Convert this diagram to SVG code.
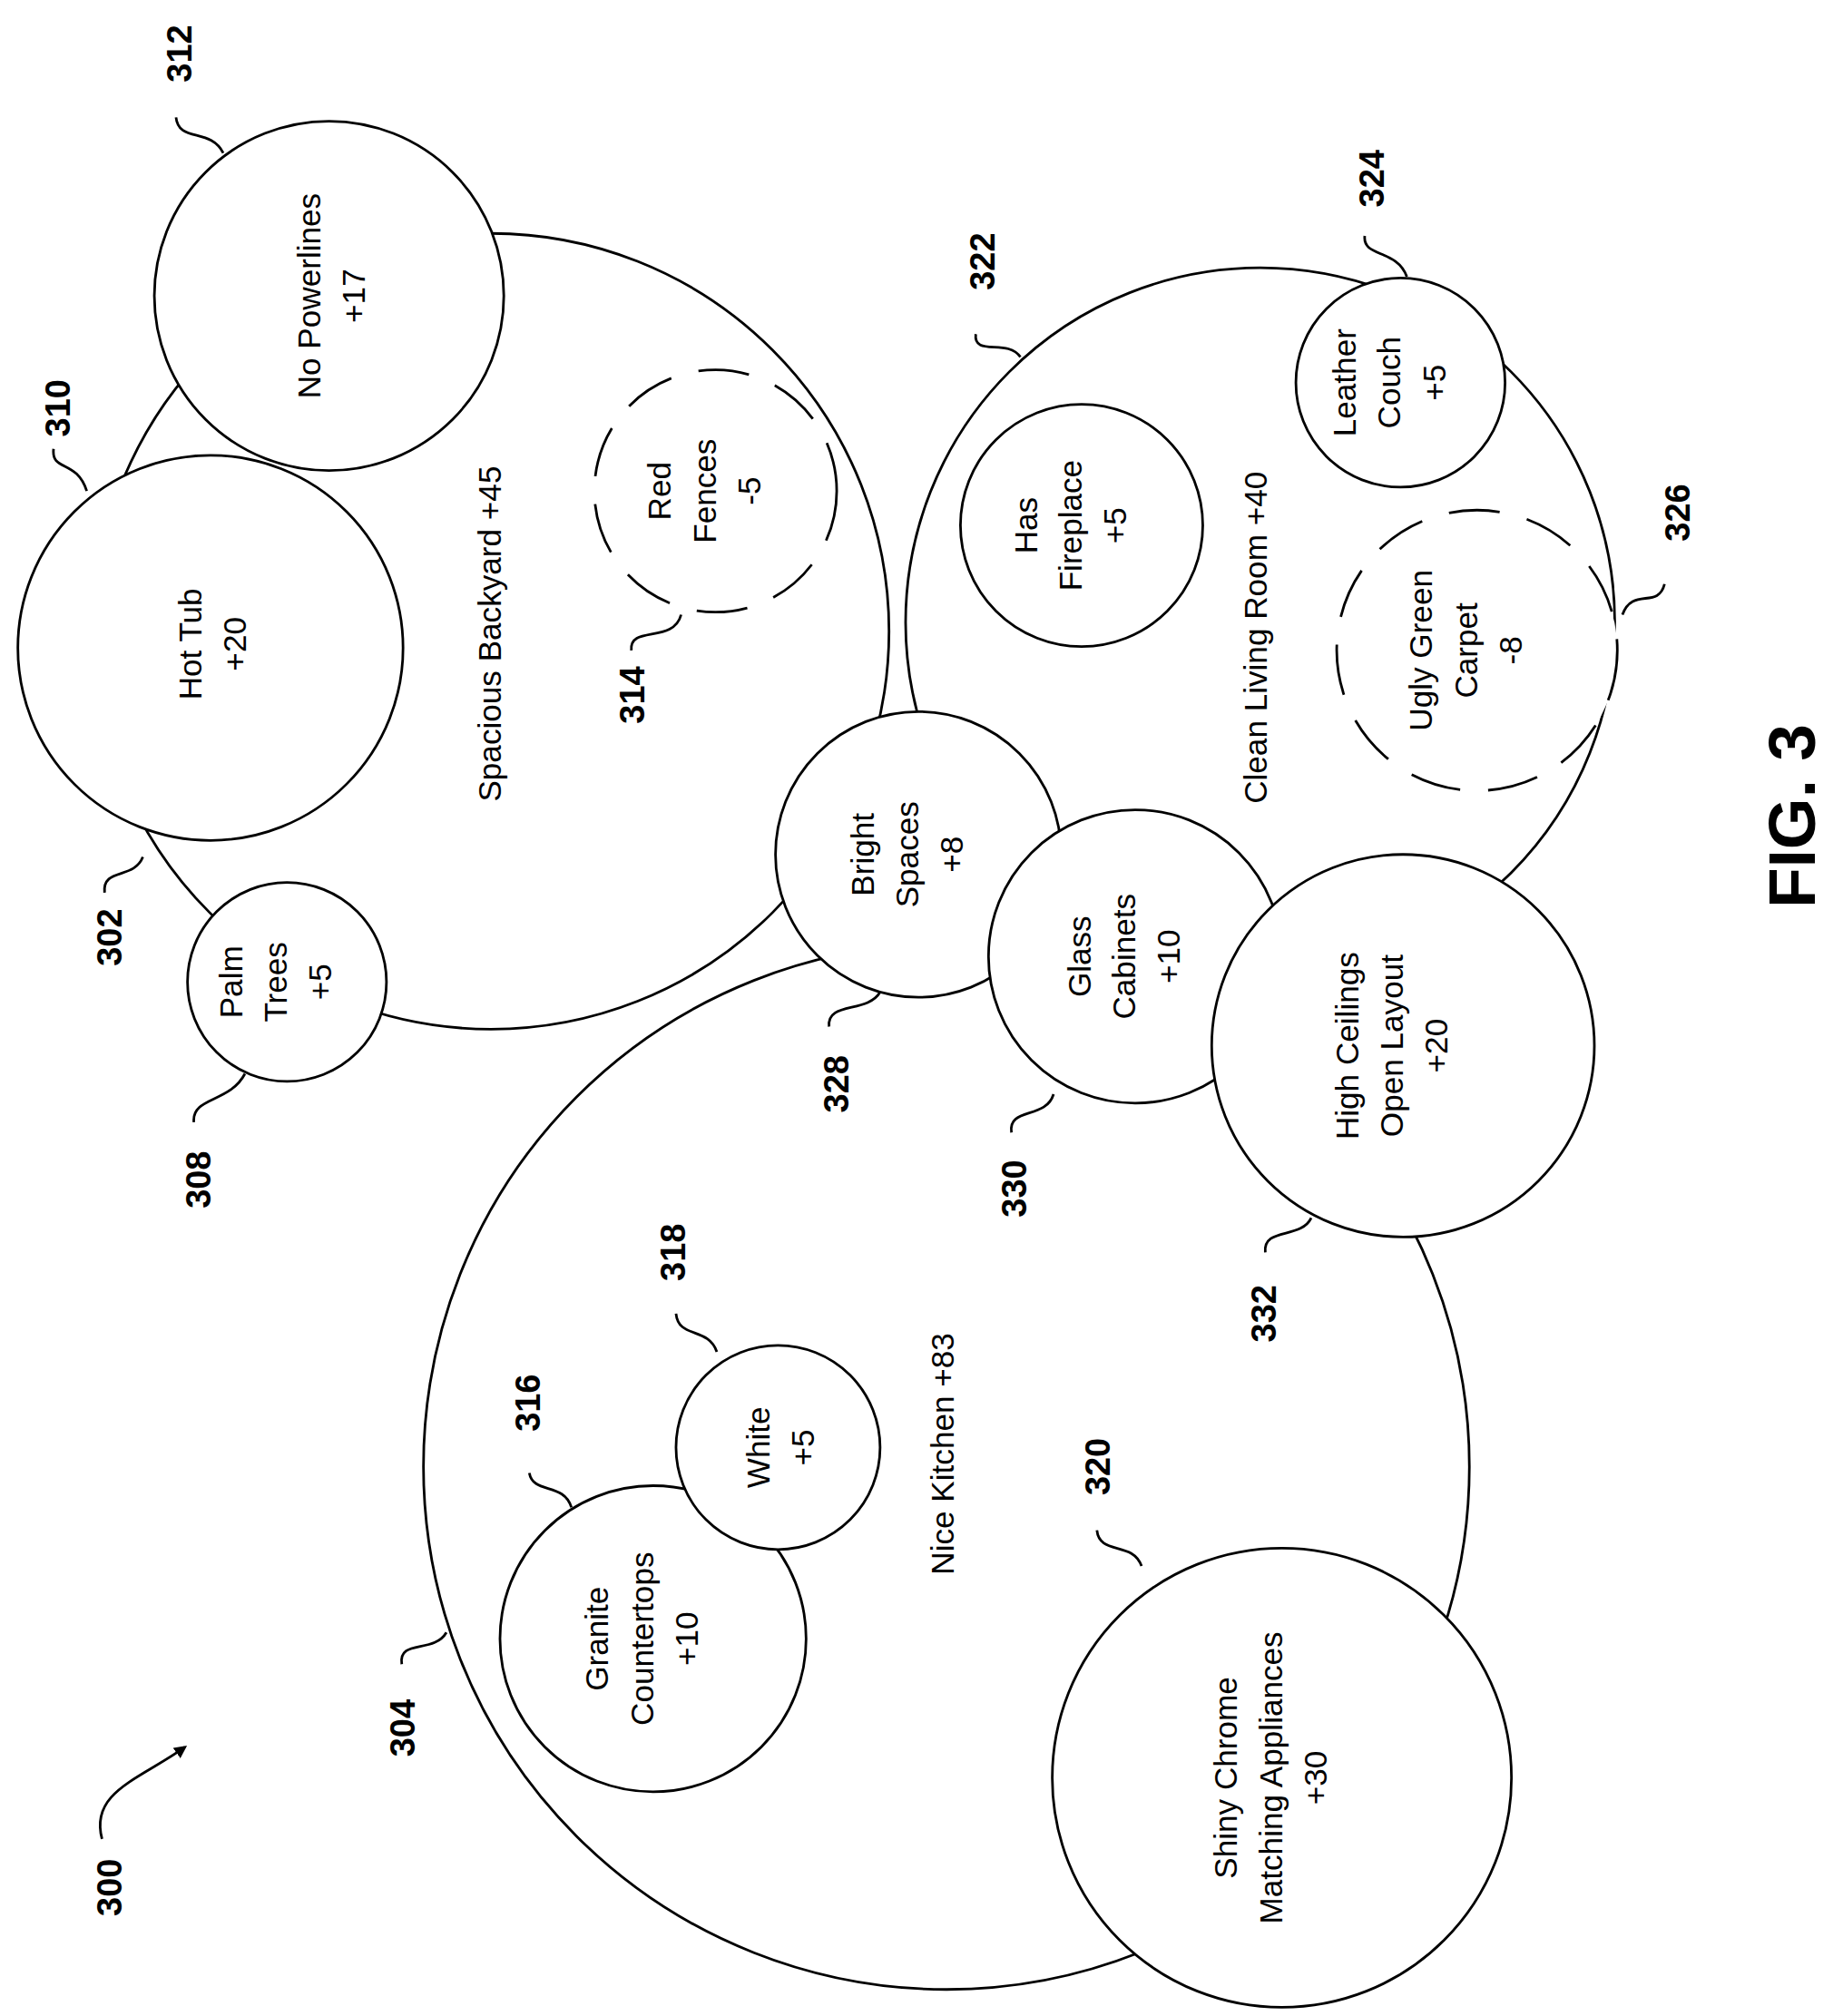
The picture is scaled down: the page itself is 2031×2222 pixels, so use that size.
<svg xmlns="http://www.w3.org/2000/svg" width="2031" height="2222" viewBox="0 0 2031 2222">
<style>
.c{fill:#fff;stroke:#000;stroke-width:2}
.d{fill:#fff;stroke:#000;stroke-width:2;stroke-dasharray:40 22}
.t{font-family:"Liberation Sans",Arial,sans-serif;font-size:25px;text-anchor:middle}
.n{font-family:"Liberation Sans",Arial,sans-serif;font-size:27px;font-weight:bold;text-anchor:middle}
.l{fill:none;stroke:#000;stroke-width:2}
</style>
<defs><marker id="a" markerWidth="10" markerHeight="10" refX="8" refY="5" orient="auto" markerUnits="userSpaceOnUse"><path d="M0,0 L10,5 L0,10 Z"/></marker></defs>
<rect width="2031" height="2222" fill="#fff"/>
<g transform="scale(1.4056)">
<g id="n302"><circle class="c" cx="385" cy="495" r="312"/><text class="t" transform="rotate(-90 385 497)" x="385" y="505">Spacious Backyard +45</text></g>
<g id="n322"><circle class="c" cx="988" cy="488" r="278"/><text class="t" transform="rotate(-90 985 500)" x="985" y="508">Clean Living Room +40</text></g>
<g id="n304"><circle class="c" cx="742" cy="1150" r="410"/><text class="t" transform="rotate(-90 740 1140)" x="740" y="1148">Nice Kitchen +83</text></g>
<g id="n310"><circle class="c" cx="165" cy="508" r="151"/><text class="t" transform="rotate(-90 165 505)" x="165" y="498"><tspan x="165">Hot Tub</tspan><tspan x="165" dy="35">+20</tspan></text></g>
<g id="n312"><circle class="c" cx="258" cy="232" r="137"/><text class="t" transform="rotate(-90 258 232)" x="258" y="225"><tspan x="258">No Powerlines</tspan><tspan x="258" dy="35">+17</tspan></text></g>
<g id="n308"><circle class="c" cx="225" cy="770" r="78"/><text class="t" transform="rotate(-90 225 770)" x="225" y="762"><tspan x="225" dy="-27">Palm</tspan><tspan x="225" dy="35">Trees</tspan><tspan x="225" dy="35">+5</tspan></text></g>
<g id="n314"><circle class="d" cx="561" cy="385" r="95"/><text class="t" transform="rotate(-90 561 385)" x="561" y="377"><tspan x="561" dy="-27">Red</tspan><tspan x="561" dy="35">Fences</tspan><tspan x="561" dy="35">-5</tspan></text></g>
<g id="n_fire"><circle class="c" cx="848" cy="412" r="95"/><text class="t" transform="rotate(-90 848 412)" x="848" y="404"><tspan x="848" dy="-27">Has</tspan><tspan x="848" dy="35">Fireplace</tspan><tspan x="848" dy="35">+5</tspan></text></g>
<g id="n324"><circle class="c" cx="1098" cy="300" r="82"/><text class="t" transform="rotate(-90 1098 300)" x="1098" y="292"><tspan x="1098" dy="-27">Leather</tspan><tspan x="1098" dy="35">Couch</tspan><tspan x="1098" dy="35">+5</tspan></text></g>
<g id="n326"><circle class="d" cx="1158" cy="510" r="110"/><text class="t" transform="rotate(-90 1158 510)" x="1158" y="502"><tspan x="1158" dy="-27">Ugly Green</tspan><tspan x="1158" dy="35">Carpet</tspan><tspan x="1158" dy="35">-8</tspan></text></g>
<g id="n328"><circle class="c" cx="720" cy="670" r="112"/><text class="t" transform="rotate(-90 720 670)" x="720" y="662"><tspan x="720" dy="-27">Bright</tspan><tspan x="720" dy="35">Spaces</tspan><tspan x="720" dy="35">+8</tspan></text></g>
<g id="n330"><circle class="c" cx="890" cy="750" r="115"/><text class="t" transform="rotate(-90 890 750)" x="890" y="742"><tspan x="890" dy="-27">Glass</tspan><tspan x="890" dy="35">Cabinets</tspan><tspan x="890" dy="35">+10</tspan></text></g>
<g id="n332"><circle class="c" cx="1100" cy="820" r="150"/><text class="t" transform="rotate(-90 1100 820)" x="1100" y="812"><tspan x="1100" dy="-27">High Ceilings</tspan><tspan x="1100" dy="35">Open Layout</tspan><tspan x="1100" dy="35">+20</tspan></text></g>
<g id="n316"><circle class="c" cx="512" cy="1285" r="120"/><text class="t" transform="rotate(-90 512 1285)" x="512" y="1277"><tspan x="512" dy="-27">Granite</tspan><tspan x="512" dy="35">Countertops</tspan><tspan x="512" dy="35">+10</tspan></text></g>
<g id="n318"><circle class="c" cx="610" cy="1135" r="80"/><text class="t" transform="rotate(-90 610 1135)" x="610" y="1128"><tspan x="610">White</tspan><tspan x="610" dy="35">+5</tspan></text></g>
<g id="n320"><circle class="c" cx="1005" cy="1394" r="180"/><text class="t" transform="rotate(-90 1005 1394)" x="1005" y="1386"><tspan x="1005" dy="-27">Shiny Chrome</tspan><tspan x="1005" dy="35">Matching Appliances</tspan><tspan x="1005" dy="35">+30</tspan></text></g>
<g id="connectors">
<path class="l" d="M42,352 C40,370 60,360 68,385"/>
<path class="l" d="M138,92 C140,112 165,100 175,120"/>
<path class="l" d="M82,700 C80,680 105,690 112,672"/>
<path class="l" d="M152,880 C150,860 180,865 192,842"/>
<path class="l" d="M495,510 C493,490 528,505 534,482"/>
<path class="l" d="M765,262 C763,280 790,265 800,280"/>
<path class="l" d="M1070,185 C1068,202 1095,195 1103,217"/>
<path class="l" d="M1305,458 C1300,478 1280,460 1272,482"/>
<path class="l" d="M650,805 C648,785 680,795 690,778"/>
<path class="l" d="M793,888 C790,868 820,878 826,858"/>
<path class="l" d="M992,982 C990,962 1020,972 1028,955"/>
<path class="l" d="M530,1030 C532,1050 555,1040 562,1060"/>
<path class="l" d="M415,1155 C418,1172 442,1162 448,1182"/>
<path class="l" d="M860,1200 C862,1220 888,1208 895,1228"/>
<path class="l" d="M315,1305 C312,1285 340,1297 350,1280"/>
<path class="l" d="M80,1442 C70,1405 110,1395 145,1370" marker-end="url(#a)"/>
</g>
<g id="labels">
<text class="n" transform="rotate(-90 45 320)" x="45" y="330">310</text>
<text class="n" transform="rotate(-90 140 42)" x="140" y="52">312</text>
<text class="n" transform="rotate(-90 85 735)" x="85" y="745">302</text>
<text class="n" transform="rotate(-90 155 925)" x="155" y="935">308</text>
<text class="n" transform="rotate(-90 495 545)" x="495" y="555">314</text>
<text class="n" transform="rotate(-90 770 205)" x="770" y="215">322</text>
<text class="n" transform="rotate(-90 1075 140)" x="1075" y="150">324</text>
<text class="n" transform="rotate(-90 1315 402)" x="1315" y="412">326</text>
<text class="n" transform="rotate(-90 655 850)" x="655" y="860">328</text>
<text class="n" transform="rotate(-90 795 932)" x="795" y="942">330</text>
<text class="n" transform="rotate(-90 990 1030)" x="990" y="1040">332</text>
<text class="n" transform="rotate(-90 527 982)" x="527" y="992">318</text>
<text class="n" transform="rotate(-90 413 1100)" x="413" y="1110">316</text>
<text class="n" transform="rotate(-90 860 1150)" x="860" y="1160">320</text>
<text class="n" transform="rotate(-90 315 1355)" x="315" y="1365">304</text>
<text class="n" transform="rotate(-90 85 1480)" x="85" y="1490">300</text>
<text class="n" style="font-size:52px" transform="rotate(-90 1405 640)" x="1405" y="658">FIG. 3</text>
</g>
</g>
</svg>
